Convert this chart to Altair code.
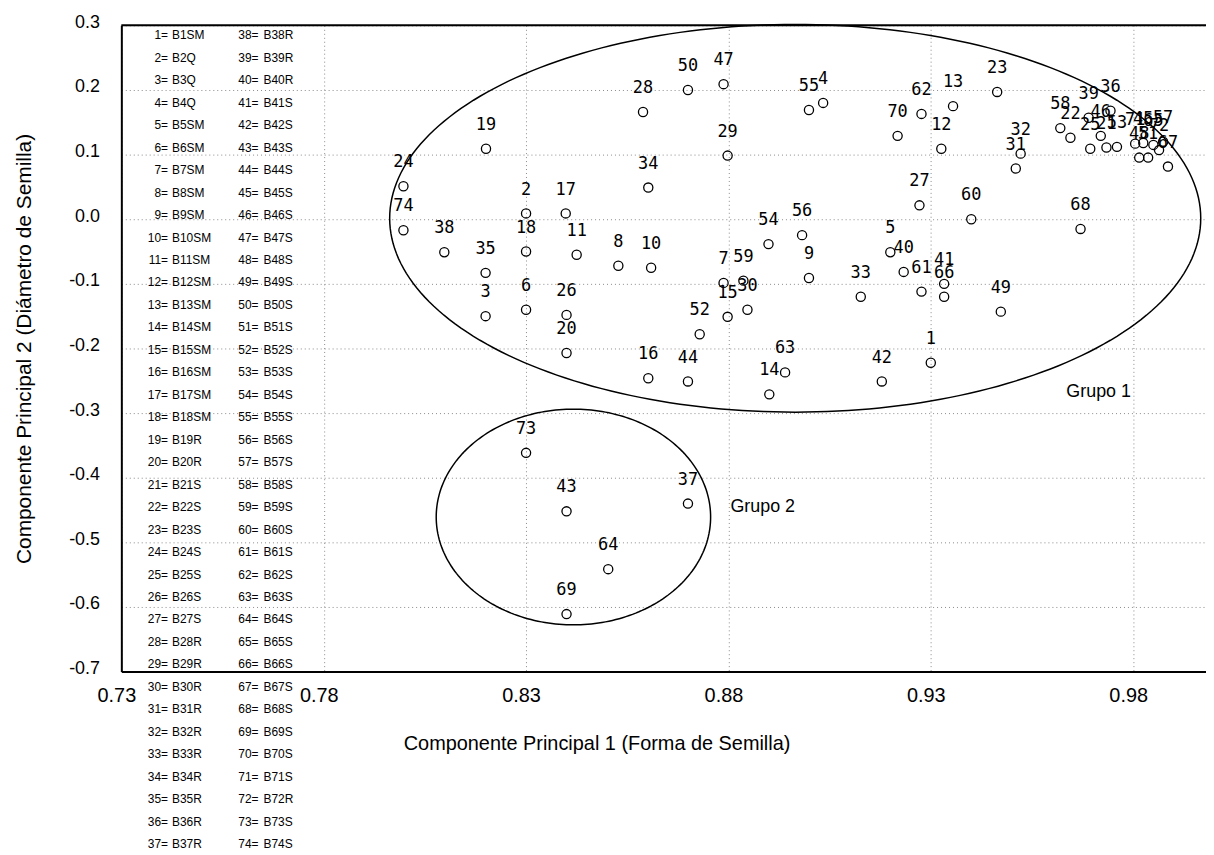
import altair as alt
import pandas as pd
import numpy as np

# ---------------- data ----------------
ids = list(range(1, 75))
cp1 = [0.930, 0.830, 0.820, 0.9034, 0.920, 0.830, 0.8788, 0.8528, 0.8999, 0.8609,
       0.8425, 0.9326, 0.9355, 0.8901, 0.8798, 0.8602, 0.8398, 0.830, 0.8201, 0.840,
       0.9734, 0.9645, 0.9464, 0.7997, 0.9694, 0.840, 0.9272, 0.8589, 0.8798, 0.8847,
       0.951, 0.9522, 0.9127, 0.8602, 0.820, 0.9744, 0.870, 0.8098, 0.969, 0.9233,
       0.9333, 0.9179, 0.840, 0.870, 0.9825, 0.972, 0.8788, 0.9815, 0.9473, 0.870,
       0.9837, 0.8729, 0.976, 0.8899, 0.8999, 0.8982, 0.9874, 0.962, 0.8837, 0.940,
       0.9277, 0.9277, 0.894, 0.8503, 0.985, 0.9333, 0.9886, 0.967, 0.840, 0.9218,
       0.9805, 0.9864, 0.830, 0.7997]
cp2 = [-0.222, 0.009, -0.150, 0.180, -0.051, -0.140, -0.0985, -0.072, -0.091, -0.075,
       -0.055, 0.109, 0.175, -0.271, -0.151, -0.246, 0.009, -0.050, 0.109, -0.207,
       0.111, 0.126, 0.197, 0.051, 0.109, -0.148, 0.0215, 0.166, 0.0985, -0.140,
       0.0785, 0.1015, -0.120, 0.049, -0.083, 0.168, -0.440, -0.051, 0.157, -0.0815,
       -0.100, -0.251, -0.452, -0.251, 0.118, 0.129, 0.209, 0.0954, -0.143, 0.200,
       0.0954, -0.178, 0.112, -0.0385, 0.169, -0.0246, 0.120, 0.141, -0.095, 0.000,
       -0.112, 0.163, -0.237, -0.5415, 0.115, -0.120, 0.0815, -0.015, -0.611, 0.129,
       0.117, 0.107, -0.3615, -0.017]
suffix = ["SM", "Q", "Q", "Q"] + ["SM"] * 14 + ["R", "R"] + ["S"] * 7 + ["R"] * 13 \
         + ["S"] * 31 + ["R", "S", "S"]

x_ticks = [0.73, 0.78, 0.83, 0.88, 0.93, 0.98]
y_ticks = [-0.7, -0.6, -0.5, -0.4, -0.3, -0.2, -0.1, 0.0, 0.1, 0.2, 0.3]

# group ellipses: name, centre x, centre y, radius x, radius y
groups = ["Grupo 1", "Grupo 2"]
g_cx = [0.8965, 0.8417]
g_cy = [0.0015, -0.4608]
g_rx = [0.1002, 0.0339]
g_ry = [0.300, 0.1669]
g_label_x = [0.9635, 0.8805]
g_label_y = [-0.2677, -0.446]

x_title = "Componente Principal 1 (Forma de Semilla)"
y_title = "Componente Principal 2 (Diámetro de Semilla)"

# ---------------- tables ----------------
pts = pd.DataFrame({"id": ids, "cp1": cp1, "cp2": cp2, "lab": [str(i) for i in ids]})

t = np.linspace(0, 2 * np.pi, 241)
ell_rows = []
for gi, g in enumerate(groups):
    for k, tt in enumerate(t):
        ell_rows.append({"g": g, "k": k,
                         "ex": g_cx[gi] + g_rx[gi] * np.cos(tt),
                         "ey": g_cy[gi] + g_ry[gi] * np.sin(tt)})
ell = pd.DataFrame(ell_rows)
glab = pd.DataFrame({"g": groups, "gx": g_label_x, "gy": g_label_y})

leg = pd.DataFrame({
    "n": ids,
    "eq": [f"{i}=" for i in ids],
    "code": [f"B{i}{s}" for i, s in zip(ids, suffix)],
    "row": [i if i <= 37 else i - 37 for i in ids],
    "col": [1 if i <= 37 else 2 for i in ids],
})

W, H = 1091, 650
xs = alt.Scale(domain=[0.73, 0.998], nice=False, zero=False)
ys = alt.Scale(domain=[-0.7, 0.3], nice=False, zero=False)
rs = alt.Scale(domain=[0.5575, 29.3175], reverse=True, nice=False, zero=False)

SANS = "Liberation Sans, Arial, sans-serif"

xaxis = alt.Axis(values=x_ticks, format=".2f", title=x_title, grid=True,
                 gridColor="#8a8a8a", gridDash=[1, 3], gridWidth=1,
                 ticks=False, domainColor="black", domainWidth=2,
                 labelFont=SANS, labelFontSize=20, labelColor="black",
                 labelPadding=14, labelFlush=False, labelOffset=-5,
                 titleFont=SANS, titleFontSize=20, titleFontWeight="normal",
                 titleColor="black", titleX=478, titleY=72,
                 titleAlign="center", titleBaseline="middle")
yaxis = alt.Axis(values=y_ticks, title=y_title, grid=True,
                 labelExpr="datum.value < -0.00001 ? '-' + format(-datum.value, '.1f') : format(datum.value, '.1f')",
                 gridColor="#8a8a8a", gridDash=[1, 3], gridWidth=1,
                 ticks=False, domainColor="black", domainWidth=2,
                 labelFont=SANS, labelFontSize=18, labelColor="black",
                 labelPadding=22, labelFlush=False, labelOffset=-3,
                 titleFont=SANS, titleFontSize=21, titleFontWeight="normal",
                 titleColor="black", titleX=-97, titleY=325,
                 titleAlign="center", titleBaseline="middle")

points = alt.Chart(pts).mark_point(shape="circle", filled=False, color="black",
                                   size=85, strokeWidth=1.3, opacity=1).encode(
    x=alt.X("cp1:Q", scale=xs, axis=xaxis),
    y=alt.Y("cp2:Q", scale=ys, axis=yaxis),
)
labels = alt.Chart(pts).mark_text(font="DejaVu Sans Mono", fontSize=17, dy=-24,
                                  baseline="middle", align="center", color="black").encode(
    x=alt.X("cp1:Q", scale=xs, axis=None),
    y=alt.Y("cp2:Q", scale=ys, axis=None),
    text="lab:N",
)
ellipses = alt.Chart(ell).mark_line(color="black", strokeWidth=1.5, clip=False).encode(
    x=alt.X("ex:Q", scale=xs, axis=None),
    y=alt.Y("ey:Q", scale=ys, axis=None),
    detail="g:N",
    order="k:Q",
)
gtext = alt.Chart(glab).mark_text(font=SANS, fontSize=18, align="left",
                                  baseline="middle", color="black").encode(
    x=alt.X("gx:Q", scale=xs, axis=None),
    y=alt.Y("gy:Q", scale=ys, axis=None),
    text="g:N",
)

def leg_layer(col, field, xpos, align):
    return alt.Chart(leg).transform_filter(f"datum.col == {col}").mark_text(
        font=SANS, fontSize=12, align=align, baseline="middle", color="black",
        clip=False).encode(
        x=alt.value(xpos),
        y=alt.Y("row:Q", scale=rs, axis=None),
        text=f"{field}:N",
    )

legend_layers = [leg_layer(1, "eq", 47, "right"), leg_layer(1, "code", 51, "left"),
                 leg_layer(2, "eq", 138, "right"), leg_layer(2, "code", 143, "left")]

top_rule = alt.Chart(pd.DataFrame({"a": [0]})).mark_rule(color="black", strokeWidth=2).encode(
    x=alt.value(0), x2=alt.value(W), y=alt.value(0))

chart = alt.layer(ellipses, points, labels, gtext, *legend_layers, top_rule).resolve_scale(
    x="independent", y="independent"
).properties(
    width=W, height=H,
    autosize=alt.AutoSizeParams(type="none"),
    padding={"left": 114, "top": 15, "right": 0, "bottom": 180},
).configure_view(stroke=None).configure(background="white")

chart.save("out.html", embed_options={"renderer": "svg", "actions": False})
